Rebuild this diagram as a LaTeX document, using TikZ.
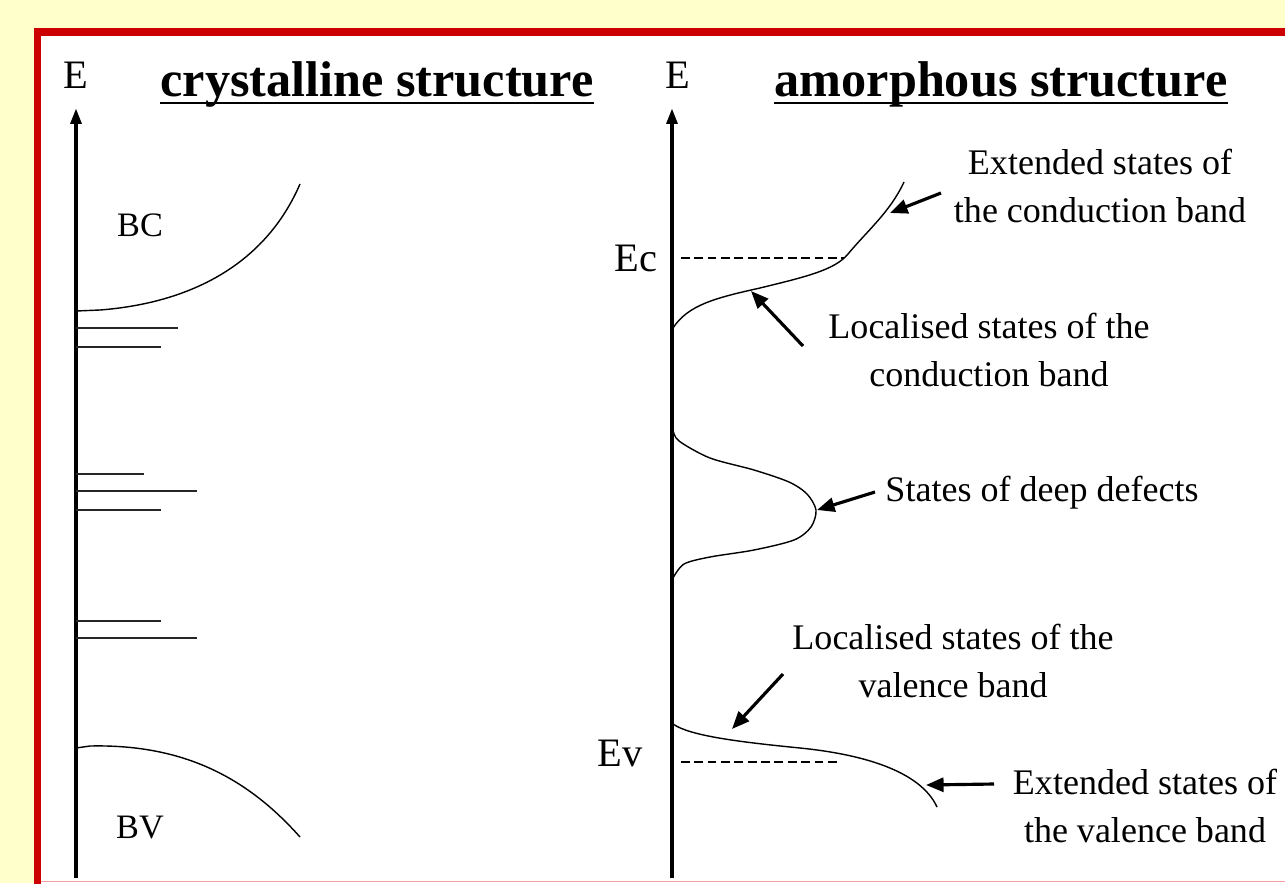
\documentclass[tikz,border=0pt]{standalone}
\usepackage{fontspec}
\setmainfont{Liberation Serif}
\usepackage{xcolor}
\usetikzlibrary{arrows.meta}

\definecolor{paleyellow}{HTML}{FFFFCC}
\definecolor{framered}{HTML}{CC0000}
\definecolor{edgepink}{HTML}{F4A0A0}

\begin{document}
\begin{tikzpicture}[
    x=0.02cm, y=-0.02cm,
    ttl/.style={font=\fontsize{28.6}{34}\selectfont\bfseries, inner sep=0pt, anchor=base},
    axlbl/.style={font=\fontsize{23}{28}\selectfont, inner sep=0pt},
    bandlbl/.style={font=\fontsize{19.5}{24}\selectfont, inner sep=0pt},
    lbl/.style={font=\fontsize{20.5}{27}\selectfont, align=center, inner sep=0pt},
    band/.style={line width=0.8pt},
    lvl/.style={line width=1.2pt, black!85},
    eaxis/.style={-{Triangle[length=9pt, width=6pt]}, line width=2.3pt},
    ptr/.style={-{Triangle[length=10pt, width=8pt]}, line width=1.8pt},
    mobility/.style={dash pattern=on 5pt off 2.6pt, line width=1.6pt},
  ]
    % background and frame
    \clip (0,0) rectangle (1285,883);
    \fill[paleyellow] (0,0) rectangle (1285,883);
    \fill[framered] (34,28) rectangle (1300,900);
    \fill[white] (41,36) rectangle (1300,900);
    \draw[edgepink, line width=1pt] (41,881.5) -- (1300,881.5);

    % titles
    \node[ttl] (ttlCryst) at (377,96) {crystalline structure};
    \node[ttl] (ttlAmorph) at (1001,96) {amorphous structure};
    \draw[line width=1.4pt] ([yshift=-4pt]ttlCryst.base west) -- ([yshift=-4pt]ttlCryst.base east);
    \draw[line width=1.4pt] ([yshift=-4pt]ttlAmorph.base west) -- ([yshift=-4pt]ttlAmorph.base east);

    % energy axes
    \coordinate (leftBot) at (76,878);
    \coordinate (leftTop) at (76,108);
    \coordinate (rightBot) at (672,878);
    \coordinate (rightTop) at (672,108);
    \draw[eaxis] (leftBot) -- (leftTop);
    \draw[eaxis] (rightBot) -- (rightTop);
    \node[axlbl] (eLeft) at (76,75) {E};
    \node[axlbl] (eRight) at (678,75) {E};

    % crystalline: bands and discrete levels
    \node[bandlbl] (bcLbl) at (140,225) {BC};
    \node[bandlbl] (bvLbl) at (140,828) {BV};
    \draw[band] (76,311) -- (100,310) .. controls (190,303) and (265,265) .. (300,184);
    \draw[band] (76,748) -- (90,746) .. controls (180,744) and (245,775) .. (300,837);
    \foreach \y/\len in {328/178, 347/161, 474/144, 491/197, 510/161, 621/161, 638/197}
      \draw[lvl] (76,\y) -- (\len,\y);

    % amorphous: density of states
    \draw[band] (673,328) .. controls (688,305) and (715,298) .. (760,288)
      .. controls (805,277) and (835,270) .. (848,254)
      .. controls (868,230) and (890,212) .. (904,182);
    \draw[band] plot[smooth] coordinates {(673,430) (679,441) (710,458) (754,470) (789,482) (807,494) (816,510) (811,527) (794,540) (754,550) (710,557) (684,564) (673,578)};
    \draw[band] (673,724) .. controls (690,736) and (740,742) .. (800,748)
      .. controls (860,754) and (920,770) .. (937,807);

    % mobility edges
    \coordinate (ecStart) at (681,258);
    \coordinate (ecEnd) at (844,258);
    \coordinate (evStart) at (681,762);
    \coordinate (evEnd) at (840,762);
    \draw[mobility] (ecStart) -- (ecEnd);
    \draw[mobility] (evStart) -- (evEnd);
    \node[axlbl] (ecLbl) at (636,258) {Ec};
    \node[axlbl] (evLbl) at (620,753) {Ev};

    % labels
    \node[lbl] (cbExtLbl) at (1100,186) {Extended states of\\the conduction band};
    \node[lbl] (cbLocLbl) at (989,350) {Localised states of the\\conduction band};
    \node[lbl] (defLbl) at (1042,493) {States of deep defects};
    \node[lbl] (vbLocLbl) at (953,661) {Localised states of the\\valence band};
    \node[lbl] (vbExtLbl) at (1145,806) {Extended states of\\the valence band};

    % pointers
    \coordinate (cbExtTail) at (941,193);
    \coordinate (cbExtTip) at (890,213);
    \coordinate (cbLocTail) at (803,346);
    \coordinate (cbLocTip) at (751,291);
    \coordinate (defTail) at (875,492);
    \coordinate (defTip) at (817,510);
    \coordinate (vbLocTail) at (783,674);
    \coordinate (vbLocTip) at (732,729);
    \coordinate (vbExtTail) at (994,784);
    \coordinate (vbExtTip) at (926,785);
    \draw[ptr] (cbExtTail) -- (cbExtTip);
    \draw[ptr] (cbLocTail) -- (cbLocTip);
    \draw[ptr] (defTail) -- (defTip);
    \draw[ptr] (vbLocTail) -- (vbLocTip);
    \draw[ptr] (vbExtTail) -- (vbExtTip);
  \end{tikzpicture}
\end{document}
